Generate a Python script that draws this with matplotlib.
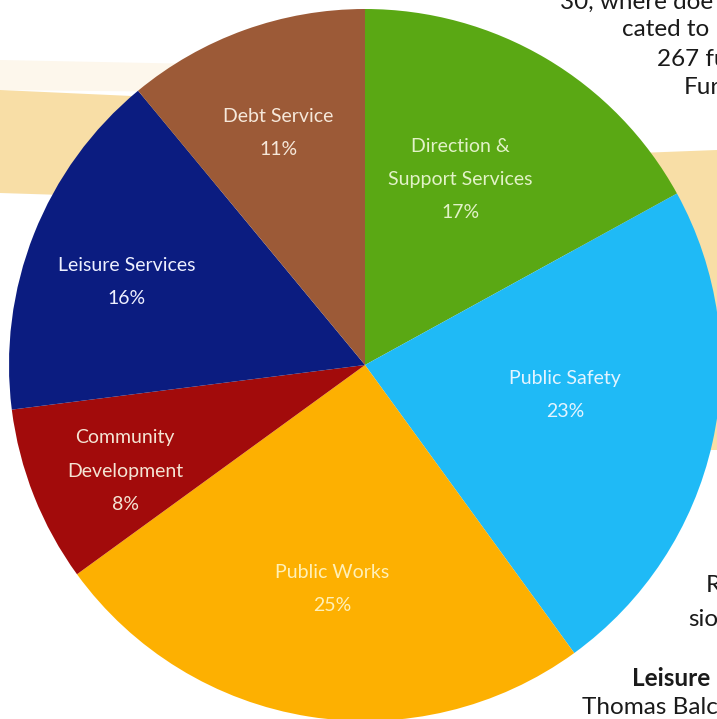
import matplotlib
matplotlib.use("Agg")
import matplotlib.pyplot as plt
from matplotlib.patches import Polygon

plt.rcParams['font.family'] = ['Lato', 'DejaVu Sans']

# budget share by department, clockwise from 12 o'clock
departments = ['Direction &\nSupport Services', 'Public Safety', 'Public Works',
               'Community\nDevelopment', 'Leisure Services', 'Debt Service']
shares = [17, 23, 25, 8, 16, 11]
slice_colors = ['#5aa814', '#1fbaf6', '#fdb001', '#a20b0b', '#0b1c80', '#9c5a37']
text_colors = ['#e2f2c8', '#e4f4ff', '#fff0b8', '#f4e4d4', '#eef0ff', '#f6e8da']

# where each label sits (unit radius, pie centre at 0,0)
label_pos = [(0.267, 0.522), (0.562, -0.084), (-0.093, -0.629),
             (-0.674, -0.298), (-0.669, 0.233), (-0.244, 0.652)]

# bits of the page text around the chart
side_text = ['30, where doe', 'cated to', '267 fu', 'Fur', 'R', 'sio',
             'Leisure', 'Thomas Balc']
side_xy = [(560, 2), (622, 30), (657, 59), (684, 88), (706, 585), (688, 619),
           (632, 679), (582, 708)]
side_bold = [False, False, False, False, False, False, True, False]

W, H = 717, 719
fig = plt.figure(figsize=(W / 100, H / 100), dpi=100)
fig.patch.set_facecolor('white')
ax = fig.add_axes([0, 0, 1, 1])

cx, cy, R = 365, 365, 356


def to_data(px, py):
    return (px - cx) / R, (cy - py) / R


# beige brush stroke behind the pie
faint = [to_data(*p) for p in [(0, 60), (200, 64), (200, 92), (0, 90)]]
ax.add_patch(Polygon(faint, closed=True, color='#fdf7ec', zorder=0, lw=0))
band_left = [to_data(*p) for p in [(0, 90), (220, 100), (220, 200), (0, 193)]]
ax.add_patch(Polygon(band_left, closed=True, color='#f8dea6', zorder=0, lw=0))
band_right = [to_data(*p) for p in [(560, 156), (717, 150), (717, 450), (600, 450)]]
ax.add_patch(Polygon(band_right, closed=True, color='#f8dea6', zorder=0, lw=0))

wedges, _ = ax.pie(shares, colors=slice_colors, startangle=90, counterclock=False,
                   radius=1, wedgeprops=dict(linewidth=0))

pct = [f'{s}%' for s in shares]
for name, p, (x, y), c in zip(departments, pct, label_pos, text_colors):
    ax.text(x, y, name + '\n' + p, ha='center', va='center', fontsize=14,
            color=c, linespacing=2.15, zorder=5)

for t, (px, py), b in zip(side_text, side_xy, side_bold):
    fig.text(px / W, 1 - py / H, t, ha='left', va='center', fontsize=17.5,
             color='#1a1a1a', fontweight='bold' if b else 'normal')

ax.set_xlim(-cx / R, (W - cx) / R)
ax.set_ylim(-(H - cy) / R, cy / R)
ax.set_aspect('equal')
ax.axis('off')

fig.savefig('out.png', dpi=100, facecolor='white')
